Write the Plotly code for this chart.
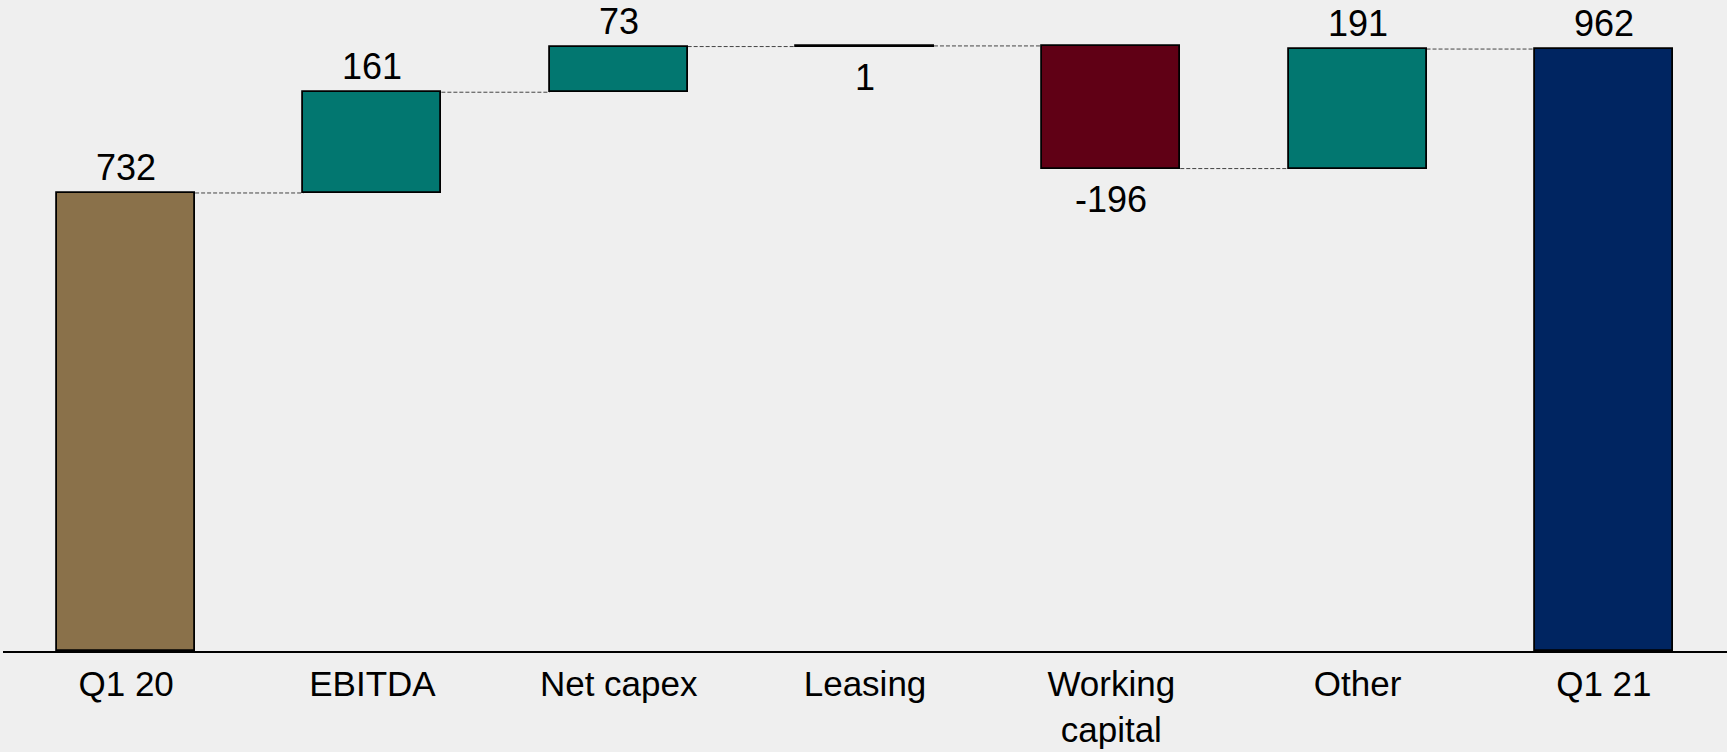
import plotly.graph_objects as go

# Cash bridge: opening balance, movements, closing balance
categories = ["Q1 20", "EBITDA", "Net capex", "Leasing", "Working<br>capital", "Other", "Q1 21"]
values = [732, 161, 73, 1, -196, 191, 962]
kinds = ["total", "delta", "delta", "delta", "delta", "delta", "total"]
label_side = ["above", "above", "above", "below", "below", "above", "above"]

colors = {
    "open": "#8A714A",
    "up": "#027770",
    "down": "#600015",
    "close": "#002561",
}

# Bar bases and end levels derived from the running total
bases, ends, bar_colors = [], [], []
running = 0
for i, (v, k) in enumerate(zip(values, kinds)):
    if k == "total":
        bases.append(0)
        running = v
        ends.append(v)
        bar_colors.append(colors["open"] if i == 0 else colors["close"])
    else:
        if v >= 0:
            bases.append(running)
        else:
            bases.append(running + v)
        running += v
        ends.append(running)
        bar_colors.append(colors["up"] if v >= 0 else colors["down"])

heights = [abs(v) for v in values]
xs = list(range(len(categories)))
bar_w = 0.56

fig = go.Figure()
fig.add_trace(go.Bar(
    x=xs,
    y=heights,
    base=bases,
    width=bar_w,
    marker=dict(color=bar_colors, line=dict(color="#000000", width=1.8)),
    hoverinfo="skip",
    showlegend=False,
))

# Dashed connectors between consecutive bars
for i in range(len(values) - 1):
    fig.add_shape(
        type="line", xref="x", yref="y",
        x0=xs[i] + bar_w / 2, x1=xs[i + 1] - bar_w / 2,
        y0=ends[i], y1=ends[i],
        line=dict(color="#444444", width=1, dash="4px,2px"),
        layer="below",
    )

# Value labels
for i, (v, side) in enumerate(zip(values, label_side)):
    top = bases[i] + heights[i]
    bottom = bases[i]
    if side == "above":
        fig.add_annotation(x=xs[i], y=top, text=str(v), showarrow=False,
                           yanchor="bottom", yshift=3,
                           font=dict(size=36, color="#000000"))
    else:
        fig.add_annotation(x=xs[i], y=bottom, text=str(v), showarrow=False,
                           yanchor="top", yshift=-8,
                           font=dict(size=36, color="#000000"))

fig.update_layout(
    width=1727, height=752,
    margin=dict(l=3, r=0, t=0, b=101),
    paper_bgcolor="#EFEFEF",
    plot_bgcolor="#EFEFEF",
    font=dict(family="Liberation Sans, Arial, sans-serif", size=36, color="#000000"),
    bargap=0,
)
fig.update_xaxes(
    tickmode="array", tickvals=xs, ticktext=categories,
    range=[-0.5, len(categories) - 0.5],
    showline=True, linecolor="#000000", linewidth=2,
    showgrid=False, zeroline=False, ticks="",
    tickfont=dict(size=35),
    ticklabelstandoff=1,
    automargin=False,
    fixedrange=True,
)
fig.update_yaxes(
    range=[0, 1040.4],
    visible=False, showgrid=False, zeroline=False,
    automargin=False,
    fixedrange=True,
)

fig.write_html("out.html")
